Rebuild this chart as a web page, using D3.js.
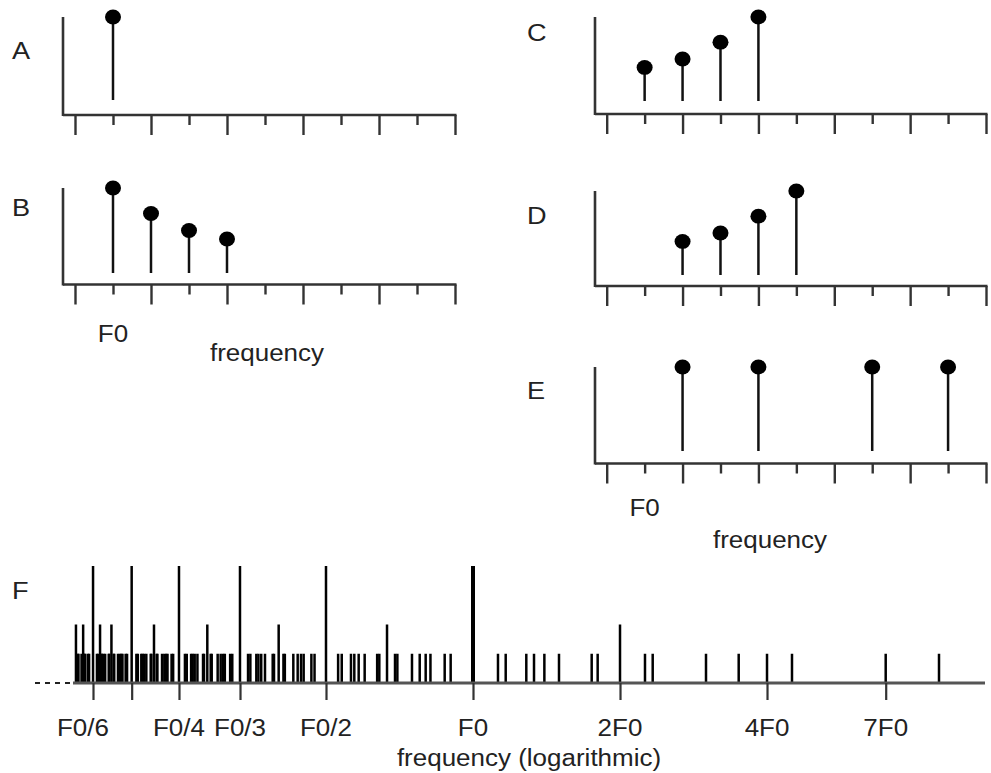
<!DOCTYPE html>
<html>
<head>
<meta charset="utf-8">
<script src="https://cdn.jsdelivr.net/npm/d3@7/dist/d3.min.js"></script>
<style>
  html, body { margin: 0; padding: 0; background: #fff; }
  svg { display: block; }
  text { font-family: "Liberation Sans", Arial, Helvetica, sans-serif; fill: #222; }
</style>
</head>
<body>
<svg id="chart" width="991" height="773"></svg>
<script>
// ---- Harmonic spectra (frequency in multiples of F0, relative level) ----
const tickSteps = [0, 1, 2, 3, 4, 5, 6, 7, 8, 9, 10];

const harmonicsA = [1];
const levelsA = [1];

const harmonicsB = [1, 2, 3, 4];
const levelsB = [1, 0.7, 0.5, 0.4];

const harmonicsC = [1, 2, 3, 4];
const levelsC = [0.4, 0.5, 0.7, 1];

const harmonicsD = [2, 3, 4, 5];
const levelsD = [0.4, 0.5, 0.7, 1];

const harmonicsE = [2, 4, 7, 9];
const levelsE = [1, 1, 1, 1];

// ---- Subharmonics of the components of E (frequency / F0), by coincidence count ----
// four components coincide
const subTall = [0.1667, 0.2, 0.25, 0.3333, 0.5, 1];
// two components coincide
const subMedium = [0.1538, 0.1591, 0.1723, 0.1818, 0.2222, 0.2857, 0.4, 0.6667, 2];
// single subharmonics of 9F0, 7F0 and 4F0
const subOf9 = [9, 4.5, 3, 2.25, 1.8, 1.5, 1.2857, 1.125, 0.9, 0.8182, 0.75, 0.6923, 0.6429,
  0.6, 0.5625, 0.5294, 0.4737, 0.45, 0.4286, 0.4091, 0.3913, 0.375, 0.36, 0.3462, 0.3214,
  0.3103, 0.3, 0.2903, 0.2813, 0.2727, 0.2647, 0.2571, 0.2432, 0.2368, 0.2308, 0.225, 0.2195,
  0.2143, 0.2093, 0.2045, 0.1957, 0.1915, 0.1875, 0.1837, 0.18, 0.1765, 0.1731, 0.1698,
  0.1636, 0.1607, 0.1579, 0.1552];
const subOf7 = [7, 3.5, 2.3333, 1.75, 1.4, 1.1667, 0.875, 0.7778, 0.7, 0.6364, 0.5833, 0.5385,
  0.4667, 0.4375, 0.4118, 0.3889, 0.3684, 0.35, 0.3182, 0.3043, 0.2917, 0.28, 0.2692, 0.2593,
  0.2414, 0.2333, 0.2258, 0.2188, 0.2121, 0.2059, 0.1944, 0.1892, 0.1842, 0.1795, 0.175,
  0.1707, 0.1628, 0.1591, 0.1556];
const subOf4 = [4, 1.3333, 0.8, 0.5714, 0.4444, 0.3636, 0.3077, 0.2667, 0.2353, 0.2105,
  0.1905, 0.1739, 0.16];

const logTickValues = [1 / 6, 1 / 5, 1 / 4, 1 / 3, 1 / 2, 1, 2, 4, 7];
const logTickLabels = ["F0/6", "", "F0/4", "F0/3", "F0/2", "F0", "2F0", "4F0", "7F0"];

// ---- Drawing ----
const svg = d3.select("#chart");
const AXIS = "#333";
const FONT = 23;
const STRETCH = 1.13;

function label(g, x, y, str, anchor, size) {
  g.append("text")
    .attr("transform", `translate(${x},${y}) scale(${STRETCH},1)`)
    .attr("text-anchor", anchor || "middle")
    .attr("font-size", size || FONT)
    .text(str);
}

function stemPanel(opts, harmonics, levels) {
  const g = svg.append("g");
  const x = d3.scaleLinear().domain([0, 10]).range(opts.xRange);
  const y = d3.scaleLinear().domain([0, 1]).range([opts.base, opts.top]);

  // vertical axis and baseline
  g.append("line")
    .attr("x1", opts.x0).attr("x2", opts.x0)
    .attr("y1", opts.top).attr("y2", opts.axisY + 1)
    .attr("stroke", AXIS).attr("stroke-width", 2.6);
  g.append("line")
    .attr("x1", opts.x0).attr("x2", opts.xRange[1] + 1.5)
    .attr("y1", opts.axisY).attr("y2", opts.axisY)
    .attr("stroke", AXIS).attr("stroke-width", 2.6);

  // alternating long / short ticks
  const axis = d3.axisBottom(x).tickValues(tickSteps).tickSize(20).tickSizeOuter(0).tickFormat("");
  const ax = g.append("g").attr("transform", `translate(0,${opts.axisY})`).call(axis);
  ax.select(".domain").remove();
  ax.selectAll(".tick line")
    .attr("stroke", AXIS).attr("stroke-width", 2.4)
    .attr("y2", d => (d % 2 === 0 ? 20 : 10));

  const data = harmonics.map((h, i) => ({ h, v: levels[i] }));
  g.selectAll(".stem").data(data).join("line")
    .attr("class", "stem")
    .attr("x1", d => x(d.h)).attr("x2", d => x(d.h))
    .attr("y1", y(0)).attr("y2", d => y(d.v))
    .attr("stroke", "#111").attr("stroke-width", 2.5);
  g.selectAll(".head").data(data).join("ellipse")
    .attr("class", "head")
    .attr("cx", d => x(d.h)).attr("cy", d => y(d.v))
    .attr("rx", 8).attr("ry", 7.4)
    .attr("fill", "#000");

  label(g, opts.letterX, opts.letterY, opts.letter, "start", 24);
  return { g, x };
}

stemPanel({ letter: "A", letterX: 12, letterY: 59, x0: 63, xRange: [75, 455],
  axisY: 115, top: 17, base: 100 }, harmonicsA, levelsA);
const pB = stemPanel({ letter: "B", letterX: 12, letterY: 216, x0: 63, xRange: [75, 455],
  axisY: 284.5, top: 188, base: 273 }, harmonicsB, levelsB);
label(pB.g, pB.x(1), 342, "F0");
label(pB.g, 267, 361, "frequency");

stemPanel({ letter: "C", letterX: 527, letterY: 41, x0: 595, xRange: [606.7, 986],
  axisY: 114, top: 17, base: 101 }, harmonicsC, levelsC);
stemPanel({ letter: "D", letterX: 527, letterY: 224, x0: 595, xRange: [606.7, 986],
  axisY: 286, top: 191, base: 275 }, harmonicsD, levelsD);
const pE = stemPanel({ letter: "E", letterX: 527, letterY: 399, x0: 595, xRange: [606.7, 986],
  axisY: 463.5, top: 367, base: 451 }, harmonicsE, levelsE);
label(pE.g, pE.x(1), 516, "F0");
label(pE.g, 770, 548, "frequency");

// ---- Panel F: subharmonics on a logarithmic frequency axis ----
const gF = svg.append("g");
const fx = d3.scaleLog().domain([1 / 6, 7]).range([93, 885.7]);
const baseY = 683;
const fy = d3.scaleLinear().domain([0, 4]).range([baseY, 566]);

// dashed continuation toward lower frequencies
gF.append("line")
  .attr("x1", 35).attr("x2", 73).attr("y1", baseY).attr("y2", baseY)
  .attr("stroke", "#222").attr("stroke-width", 2.2).attr("stroke-dasharray", "5,5");

const lines = [
  ...subOf9.map(f => ({ f, w: 1 })),
  ...subOf7.map(f => ({ f, w: 1 })),
  ...subOf4.map(f => ({ f, w: 1 })),
  ...subMedium.map(f => ({ f, w: 2 })),
  ...subTall.map(f => ({ f, w: 4 }))
];
gF.selectAll(".sub").data(lines).join("line")
  .attr("class", "sub")
  .attr("x1", d => fx(d.f)).attr("x2", d => fx(d.f))
  .attr("y1", baseY).attr("y2", d => fy(d.w))
  .attr("stroke", "#000")
  .attr("stroke-width", d => (d.f === 1 ? 4 : 2.5));

// baseline and ticks
gF.append("line")
  .attr("x1", 73).attr("x2", 985).attr("y1", baseY).attr("y2", baseY)
  .attr("stroke", "#555").attr("stroke-width", 3);
const fAxis = d3.axisBottom(fx).tickValues(logTickValues).tickSize(17).tickSizeOuter(0).tickFormat("");
const fAx = gF.append("g").attr("transform", `translate(0,${baseY})`).call(fAxis);
fAx.select(".domain").remove();
fAx.selectAll(".tick line").attr("stroke", "#333").attr("stroke-width", 2.2);

gF.selectAll(".flabel").data(logTickValues.map((v, i) => ({ v, t: logTickLabels[i], i })))
  .join("text")
  .attr("class", "flabel")
  .attr("transform", d => `translate(${fx(d.v) + (d.i === 0 ? -10 : 0)},736) scale(${STRETCH},1)`)
  .attr("text-anchor", "middle")
  .attr("font-size", FONT)
  .text(d => d.t);

label(gF, 529, 766, "frequency (logarithmic)");
label(gF, 12, 599, "F", "start", 24);
</script>
</body>
</html>
